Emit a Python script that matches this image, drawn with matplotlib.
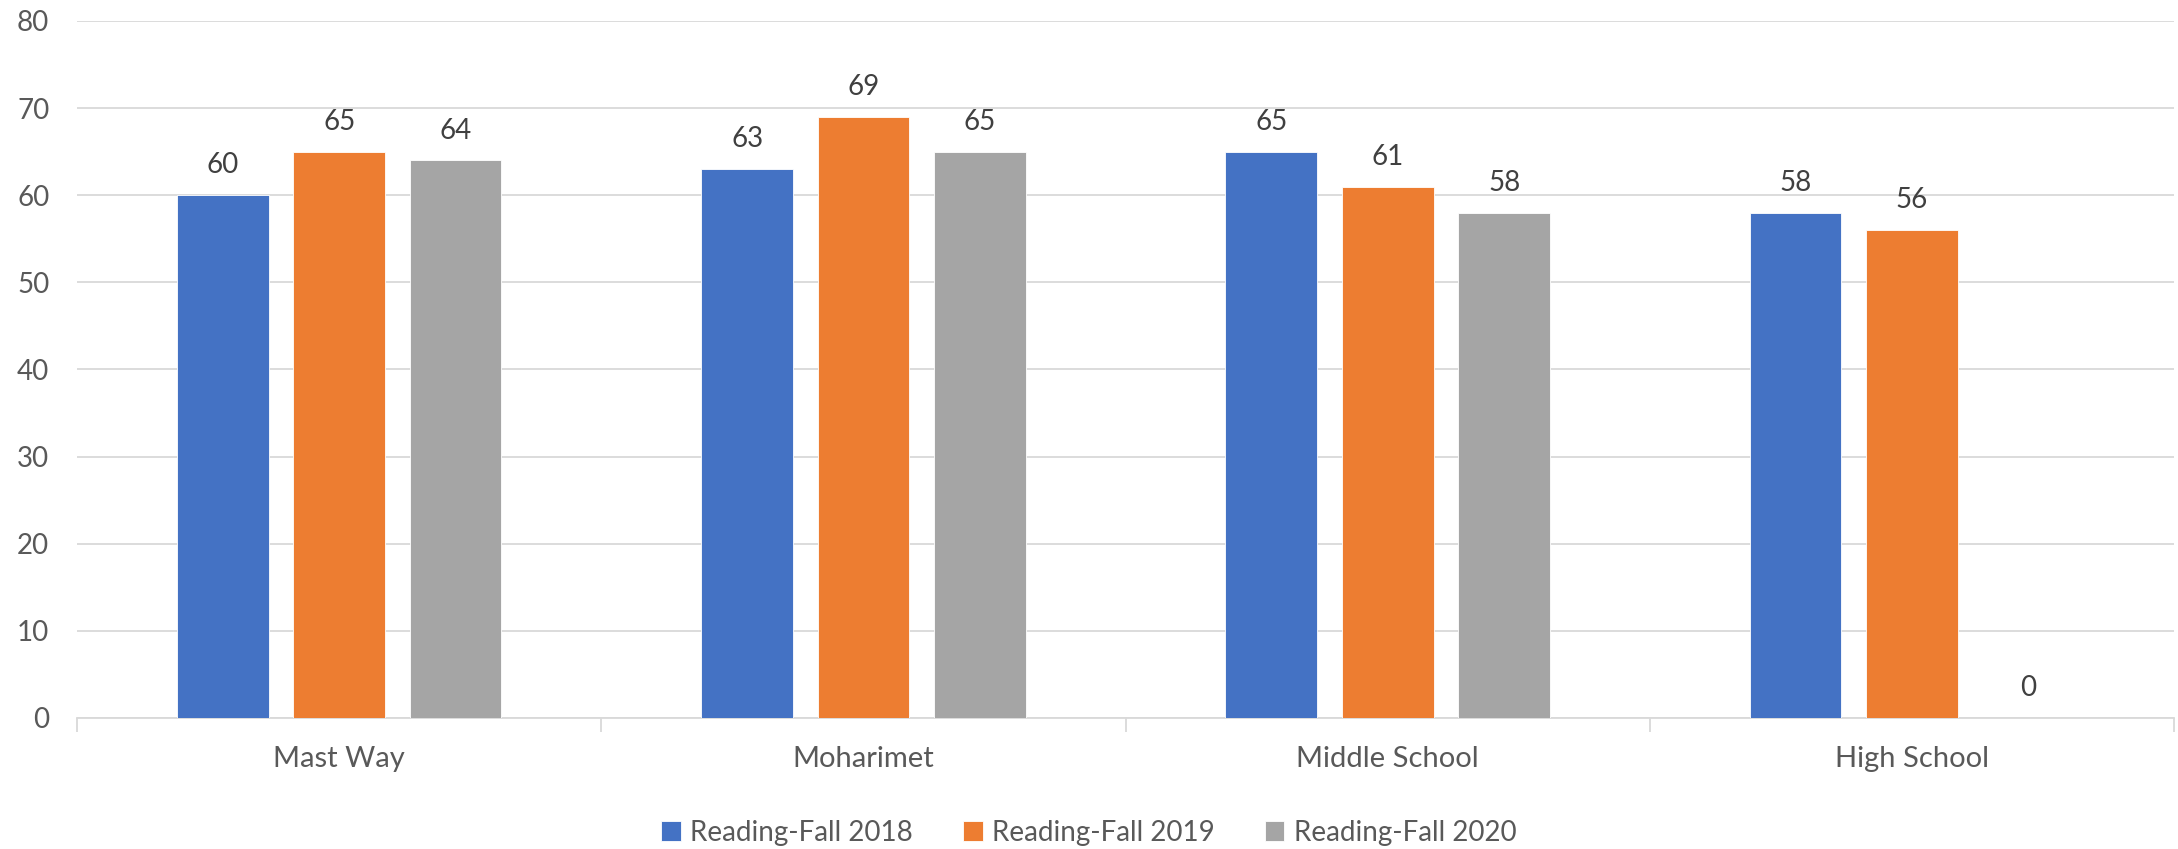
import numpy as np
import matplotlib.pyplot as plt

plt.rcParams['font.family'] = ['Lato', 'DejaVu Sans']

# -------------------- Data --------------------
schools = ['Mast Way', 'Moharimet', 'Middle School', 'High School']
series_names = ['Reading-Fall 2018', 'Reading-Fall 2019', 'Reading-Fall 2020']
fall_2018 = [60, 63, 65, 58]
fall_2019 = [65, 69, 61, 56]
fall_2020 = [64, 65, 58, 0]

colors = ['#4472C4', '#ED7D31', '#A5A5A5']
grid_color = '#D9D9D9'
tick_color = '#595959'
label_color = '#404040'

# -------------------- Figure --------------------
fig = plt.figure(figsize=(21.78, 8.49), dpi=100)
ax = fig.add_axes([0.0354, 0.1543, 0.9628, 0.8210])

x = np.arange(len(schools))
bar_w = 0.175
step = 0.222
offsets = [-step, 0, step]

for vals, name, col, off in zip([fall_2018, fall_2019, fall_2020], series_names, colors, offsets):
    bars = ax.bar(x + off, vals, width=bar_w, color=col, label=name,
                  edgecolor='white', linewidth=0.6, zorder=3)
    for b, v in zip(bars, vals):
        ax.annotate(f'{v}', (b.get_x() + b.get_width() / 2, v),
                    xytext=(0, 21.5), textcoords='offset points',
                    ha='center', va='center', fontsize=20, color=label_color)

ax.set_xlim(-0.5, len(schools) - 0.5)
ax.set_ylim(0, 80)
ax.set_yticks(np.arange(0, 81, 10))
ax.yaxis.grid(True, color=grid_color, linewidth=1.3, zorder=0)
ax.set_axisbelow(True)

ax.set_xticks(x)
ax.set_xticklabels(schools, fontsize=21, color=tick_color)
ax.set_xticks(np.arange(-0.5, len(schools)), minor=True)
ax.tick_params(axis='x', which='major', length=0, pad=20)
ax.tick_params(axis='x', which='minor', length=10, width=1.3, color=grid_color)
ax.tick_params(axis='y', length=0, labelsize=20, labelcolor=tick_color, pad=20)

for side in ['top', 'right', 'left']:
    ax.spines[side].set_visible(False)
ax.spines['bottom'].set_color(grid_color)
ax.spines['bottom'].set_linewidth(1.3)

fig.legend(loc='center', bbox_to_anchor=(0.5, 0.019), ncol=3, frameon=False,
           fontsize=20, labelcolor=tick_color, handlelength=0.7, handleheight=0.75,
           handletextpad=0.35, columnspacing=1.8)

fig.savefig('out.png', dpi=100)
